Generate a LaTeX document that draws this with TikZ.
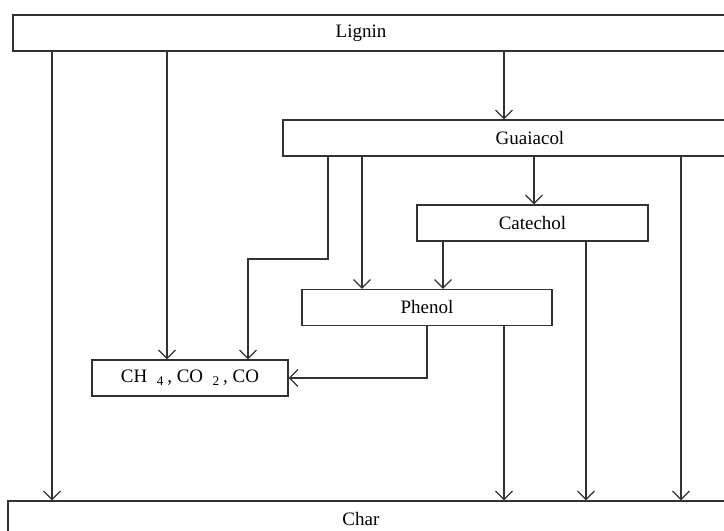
\documentclass[tikz,border=0pt]{standalone}
\usepackage{fontspec}
\setmainfont{Liberation Serif}
\usetikzlibrary{arrows.meta, positioning}
\definecolor{lineColor}{RGB}{50, 50, 50}

\begin{document}
\begin{tikzpicture}[x=0.025cm, y=-0.025cm,
    boxtext/.style={font=\fontsize{13.5}{16}\selectfont, text=black},
    box/.style={draw=lineColor, line width=0.9pt, rectangle, minimum height=0.9cm, inner sep=0pt, boxtext},
    flow/.style={draw=lineColor, line width=0.9pt, -{Straight Barb[length=6pt, width=12pt]}}]
    \useasboundingbox (0,0) rectangle (724,531);
    \clip (0,0) rectangle (724,531);
    % boxes
    \node[box, minimum width=18.5cm, label={[boxtext, xshift=-0.55cm]center:Lignin}] (lignin) at (383,33) {};
    \node[box, minimum width=12.35cm] (guaiacol) at (530,138) {Guaiacol};
    \node[box, minimum width=5.775cm] (catechol) at (532.5,223) {Catechol};
    \node[box, minimum width=6.25cm] (phenol) at (427,307.5) {Phenol};
    \node[box, minimum width=4.9cm] (gas) at (190,378) {CH\enspace\textsubscript{4}\,, CO\enspace\textsubscript{2}\,, CO};
    \node[box, minimum width=18.625cm, label={[boxtext, xshift=-0.49cm]center:Char}] (char) at (380.5,519) {};
    % connectors
    \draw[flow] (lignin.south -| 52,0) -- (char.north -| 52,0);
    \draw[flow] (lignin.south -| 167,0) -- (gas.north -| 167,0);
    \draw[flow] (lignin.south -| 504,0) -- (guaiacol.north -| 504,0);
    \draw[flow] (guaiacol.south -| 328,0) |- (248,259) -- (gas.north -| 248,0);
    \draw[flow] (guaiacol.south -| 362,0) -- (phenol.north -| 362,0);
    \draw[flow] (guaiacol.south -| 534,0) -- (catechol.north -| 534,0);
    \draw[flow] (guaiacol.south -| 681,0) -- (char.north -| 681,0);
    \draw[flow] (catechol.south -| 443,0) -- (phenol.north -| 443,0);
    \draw[flow] (catechol.south -| 586,0) -- (char.north -| 586,0);
    \draw[flow] (phenol.south -| 427,0) |- (gas.east);
    \draw[flow] (phenol.south -| 504,0) -- (char.north -| 504,0);
\end{tikzpicture}
\end{document}
